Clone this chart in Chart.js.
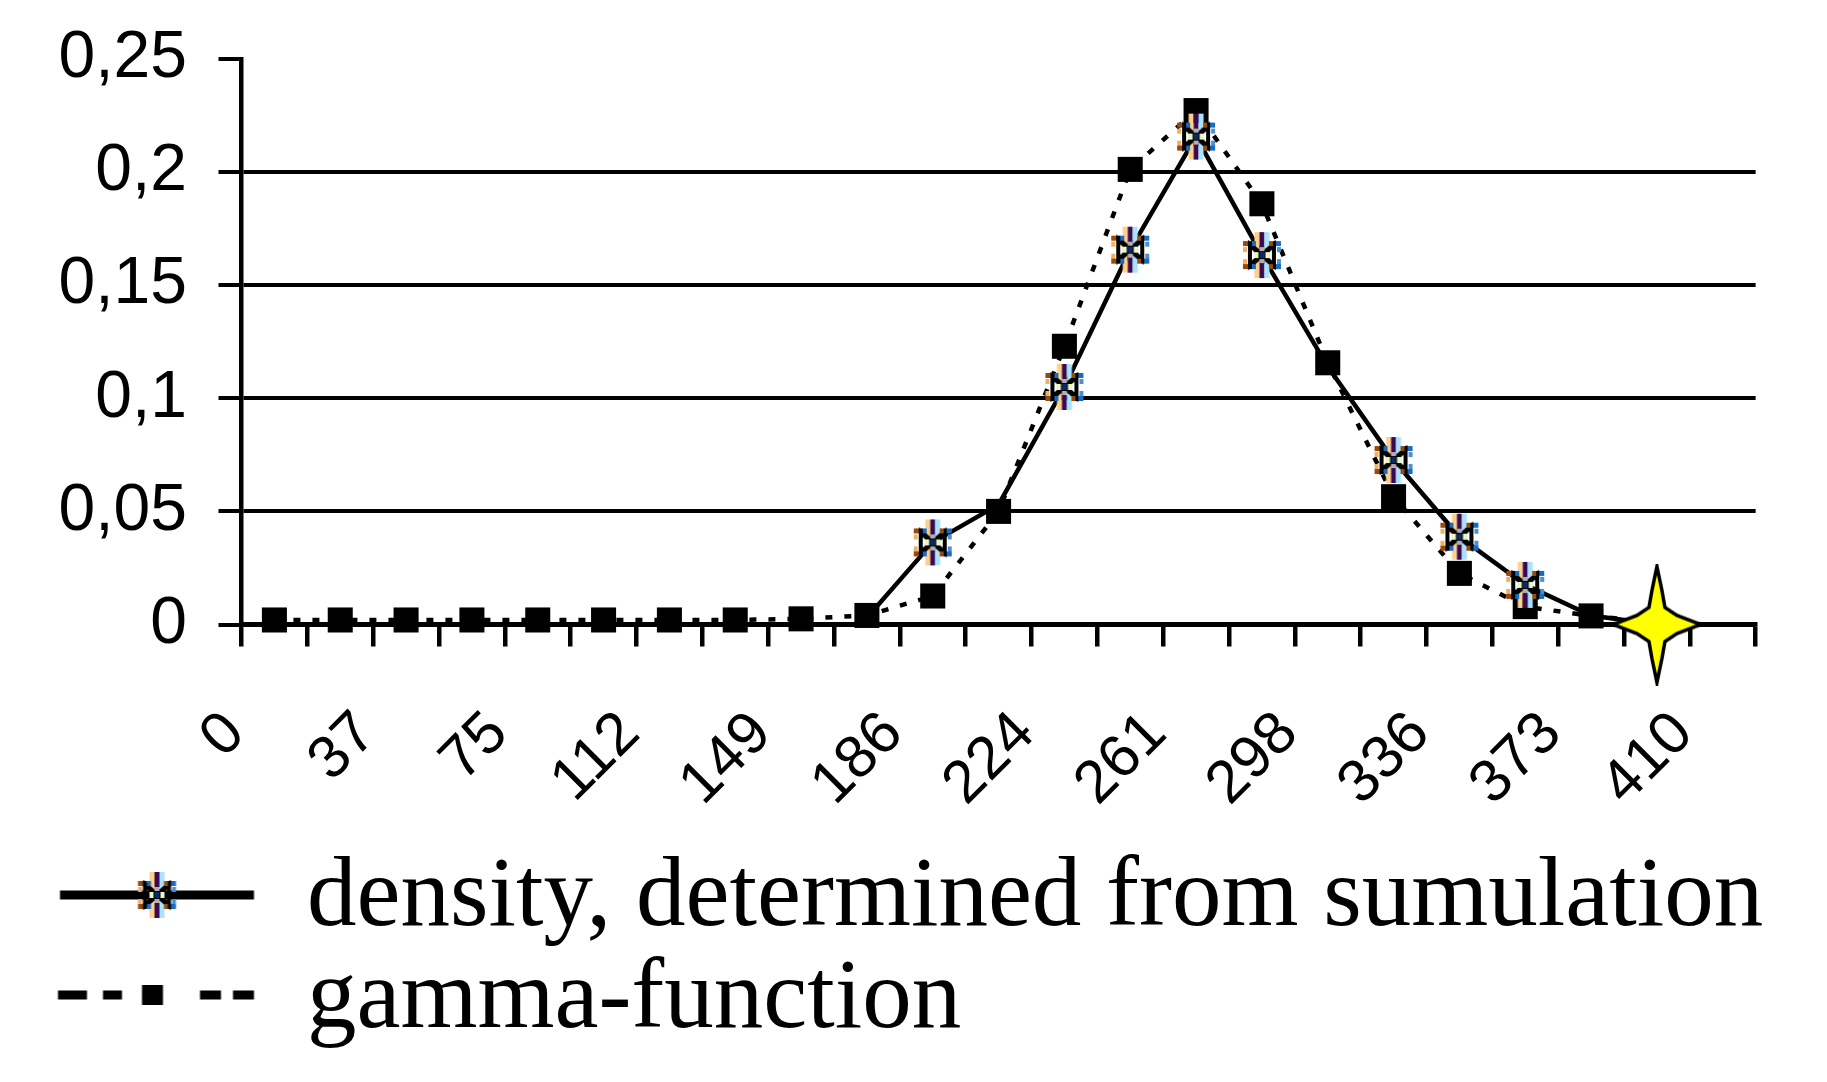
<!DOCTYPE html>
<html>
<head>
<meta charset="utf-8">
<script src="https://cdn.jsdelivr.net/npm/chart.js@4.4.1/dist/chart.umd.min.js"></script>
<style>
  html, body { margin: 0; padding: 0; background: #ffffff; }
  #wrap { width: 1827px; height: 1082px; position: relative; }
  canvas { display: block; }
</style>
</head>
<body>
<div id="wrap"><canvas id="c" width="1827" height="1082"></canvas></div>
<script>
// ---- data ----
const categories = [0, 19, 37, 56, 75, 93, 112, 130, 149, 168, 186, 205, 224, 242, 261, 280, 298, 317, 336, 354, 373, 391, 410];
const xTickLabels = ['0', '37', '75', '112', '149', '186', '224', '261', '298', '336', '373', '410'];
const yTickLabels = ['0', '0,05', '0,1', '0,15', '0,2', '0,25'];
const densitySim = [null, null, null, null, null, null, null, null, null, 0.003, 0.0363, 0.053, 0.105, 0.1657, 0.2157, 0.1633, 0.114, 0.0727, 0.0388, 0.0175, 0.004, 0, null];
const gammaFunc = [0.002, 0.002, 0.002, 0.002, 0.002, 0.002, 0.002, 0.002, 0.0025, 0.004, 0.0126, 0.050, 0.123, 0.2012, 0.2272, 0.186, 0.1157, 0.0565, 0.0226, 0.0079, 0.0038, 0.001, null];
const seriesNames = ['density, determined from sumulation', 'gamma-function'];

// ---- marker styling (not data) ----
const starIndex = 21;                 // point drawn with the yellow star marker
const hiddenMarkerIdx = [9, 11, 16, 20]; // density points whose marker is not visible

function makeCanvas(w, h, draw) {
  const c = document.createElement('canvas');
  c.width = w; c.height = h;
  draw(c.getContext('2d'), w, h);
  return c;
}
function drawAsterisk(g, cx, cy) {
  g.lineCap = 'butt';
  // vertical stroke (three tinted columns)
  g.fillStyle = '#ffd08a'; g.fillRect(cx - 7.5, cy - 23, 5, 46);
  g.fillStyle = '#3a0a50'; g.fillRect(cx - 2.5, cy - 23, 5, 46);
  g.fillStyle = '#a8e4ff'; g.fillRect(cx + 2.5, cy - 23, 5, 46);
  // diagonal strokes
  g.strokeStyle = '#000';
  g.lineWidth = 5;
  g.beginPath();
  g.moveTo(cx - 15, cy - 13); g.lineTo(cx + 15, cy + 13);
  g.moveTo(cx + 15, cy - 13); g.lineTo(cx - 15, cy + 13);
  g.stroke();
  // side columns
  g.fillStyle = '#000';
  g.fillRect(cx - 14, cy - 14, 4, 28);
  g.fillRect(cx + 10, cy - 14, 4, 28);
  g.fillStyle = '#9a4a08';
  g.fillRect(cx - 19, cy - 14, 5, 5); g.fillRect(cx - 19, cy + 9, 5, 5);
  g.fillRect(cx + 7, cy - 14, 4, 5); g.fillRect(cx + 7, cy + 9, 4, 5);
  g.fillStyle = '#f0b060';
  g.fillRect(cx - 19, cy - 8, 4, 5); g.fillRect(cx - 19, cy + 4, 4, 5);
  g.fillStyle = '#1a6ac0';
  g.fillRect(cx + 14, cy - 14, 5, 5); g.fillRect(cx + 14, cy + 9, 5, 5);
  g.fillRect(cx - 10, cy - 14, 4, 5); g.fillRect(cx - 10, cy + 9, 4, 5);
  g.fillStyle = '#4a90d8';
  g.fillRect(cx + 15, cy - 8, 4, 5); g.fillRect(cx + 15, cy + 4, 4, 5);
  // centre
  g.fillStyle = '#0a2a6a'; g.fillRect(cx - 2.5, cy - 3, 5, 6);
  g.fillStyle = '#b0b0b0'; g.fillRect(cx - 2.5, cy - 8, 5, 4); g.fillRect(cx - 2.5, cy + 4, 5, 4);
  g.fillStyle = '#e8f8c0'; g.fillRect(cx - 7.5, cy - 3, 4, 6); g.fillRect(cx + 3.5, cy - 3, 4, 6);
}
const asteriskImg = makeCanvas(40, 48, (g, w, h) => drawAsterisk(g, w / 2, h / 2));

const starImg = makeCanvas(96, 122, (g, w, h) => {
  const cx = w / 2, cy = h / 2;
  const pts = [[0, -58], [5, -34], [8, -17], [20, -9], [44, 0], [20, 9], [8, 17], [5, 34],
               [0, 58], [-5, 34], [-8, 17], [-20, 9], [-44, 0], [-20, -9], [-8, -17], [-5, -34]];
  g.beginPath();
  pts.forEach((p, i) => { if (i === 0) g.moveTo(cx + p[0], cy + p[1]); else g.lineTo(cx + p[0], cy + p[1]); });
  g.closePath();
  g.fillStyle = '#ffff00';
  g.fill();
  g.lineWidth = 3.5;
  g.strokeStyle = '#000';
  g.stroke();
});

const legendDensityImg = makeCanvas(201, 56, (g, w, h) => {
  g.fillStyle = '#000';
  g.fillRect(3.5, 19.5, 194, 9);
  drawAsterisk(g, 100.5, 24);
});
const legendGammaImg = makeCanvas(201, 40, (g, w, h) => {
  g.fillStyle = '#000';
  const y = 9.5, t = 9;
  g.fillRect(1.5, y, 29, t);
  g.fillRect(46.5, y, 19, t);
  g.fillRect(85.5, 4, 21, 20);
  g.fillRect(143.5, y, 21, t);
  g.fillRect(176.5, y, 21, t);
});

const tickFont = { family: '"Liberation Sans", Arial, sans-serif', size: 66 };
const xTickFont = { family: '"Liberation Sans", Arial, sans-serif', size: 60 };

new Chart(document.getElementById('c'), {
  type: 'line',
  data: {
    labels: categories,
    datasets: [
      {
        label: seriesNames[0],
        data: densitySim,
        borderColor: '#000',
        borderWidth: 4.5,
        tension: 0,
        fill: false,
        spanGaps: false,
        clip: false,
        pointStyle: ctx => ctx.dataIndex === starIndex ? starImg : asteriskImg,
        pointRadius: ctx => hiddenMarkerIdx.includes(ctx.dataIndex) ? 0 : 18,
        pointBackgroundColor: '#000',
        pointBorderWidth: 0
      },
      {
        label: seriesNames[1],
        data: gammaFunc,
        borderColor: '#000',
        borderWidth: 4.5,
        borderDash: [7, 12],
        tension: 0,
        fill: false,
        clip: false,
        pointStyle: 'rect',
        pointRadius: 17.7,
        pointBackgroundColor: '#000',
        pointBorderColor: '#000',
        pointBorderWidth: 0
      }
    ]
  },
  options: {
    responsive: false,
    animation: false,
    devicePixelRatio: 1,
    layout: { padding: { left: 53.5, right: 63, top: 59, bottom: 21.5 } },
    plugins: {
      tooltip: { enabled: false },
      legend: {
        position: 'bottom',
        align: 'start',
        labels: {
          usePointStyle: true,
          pointStyleWidth: 201,
          boxHeight: 99,
          padding: 3,
          color: '#000',
          font: { family: '"Liberation Serif", "Times New Roman", serif', size: 99 },
          generateLabels: () => [
            { text: seriesNames[0], pointStyle: legendDensityImg, fillStyle: '#000', strokeStyle: '#000', fontColor: '#000', lineWidth: 0, hidden: false, datasetIndex: 0, rotation: 0 },
            { text: seriesNames[1], pointStyle: legendGammaImg, fillStyle: '#000', strokeStyle: '#000', fontColor: '#000', lineWidth: 0, hidden: false, datasetIndex: 1, rotation: 0 }
          ]
        }
      }
    },
    scales: {
      x: {
        type: 'category',
        offset: true,
        grid: { offset: true, drawOnChartArea: false, drawTicks: true, tickLength: 22, lineWidth: 4.5, color: '#000', tickColor: '#000' },
        border: { display: true, color: '#000', width: 4.5 },
        ticks: {
          autoSkip: false,
          minRotation: 45,
          maxRotation: 45,
          padding: 52,
          labelOffset: -39,
          color: '#000',
          font: xTickFont,
          callback: (v, i) => (i % 2 === 0 ? xTickLabels[i / 2] : '')
        },
        afterFit: s => { s.height = 222; }
      },
      y: {
        min: 0,
        max: 0.25,
        ticks: {
          stepSize: 0.05,
          padding: 31.5,
          color: '#000',
          font: tickFont,
          callback: (v, i) => yTickLabels[i]
        },
        grid: {
          color: ctx => (ctx.tick && ctx.tick.value > 0.24) ? 'rgba(0,0,0,0)' : '#000',
          tickColor: '#000',
          lineWidth: 4,
          tickLength: 23
        },
        border: { display: true, color: '#000', width: 4.5 },
        afterFit: s => { s.width = 188; s.paddingTop = 0; s.paddingBottom = 0; }
      }
    }
  }
});
</script>
</body>
</html>
